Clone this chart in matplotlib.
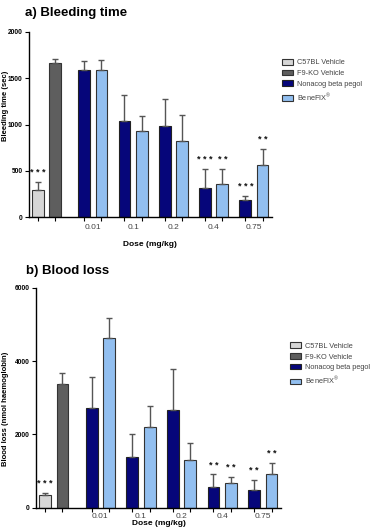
import numpy as np
import matplotlib
matplotlib.use("Agg")
import matplotlib.pyplot as plt

# doses shown on x axis
DOSES = ["0.01", "0.1", "0.2", "0.4", "0.75"]
SERIES = ["C57BL Vehicle", "F9-KO Vehicle", "Nonacog beta pegol", "BeneFIX$^{\\mathregular{®}}$"]

# a) bleeding time (sec): mean and upper error
BT_C57 = [290, 95]
BT_F9 = [1660, 50]
BT_NBP = [1590, 1040, 980, 320, 190]
BT_NBP_ERR = [100, 280, 295, 205, 35]
BT_BFX = [1590, 925, 820, 355, 560]
BT_BFX_ERR = [110, 165, 280, 165, 180]
BT_C57_STARS = "* * *"
BT_NBP_STARS = ["", "", "", "* * *", "* * *"]
BT_BFX_STARS = ["", "", "", "* *", "* *"]

# b) blood loss (nmol haemoglobin)
BL_C57 = [340, 60]
BL_F9 = [3370, 300]
BL_NBP = [2725, 1395, 2670, 550, 480]
BL_NBP_ERR = [835, 625, 1125, 355, 270]
BL_BFX = [4620, 2190, 1310, 680, 915]
BL_BFX_ERR = [550, 580, 450, 160, 315]
BL_C57_STARS = "* * *"
BL_NBP_STARS = ["", "", "", "* *", "* *"]
BL_BFX_STARS = ["", "", "", "* *", "* *"]

COLORS = ["#d6d6d6", "#5e5e5e", "#06067a", "#92bff0"]
W = 0.29
OFF = 0.43


def draw_panel(ax, c57, f9, nbp, nbp_err, bfx, bfx_err, c57_st, nbp_st, bfx_st, ymax, yticks,
               xlabelpad=7, xtickpad=5):
    x = np.arange(len(DOSES))
    ekw = dict(ecolor="#555555", elinewidth=1.0, capsize=2.5, capthick=1.0)
    bars = []
    bars.append(ax.bar([-1.15], [c57[0]], W, color=COLORS[0], edgecolor="#333333", lw=0.8,
                       yerr=[[0], [c57[1]]], error_kw=ekw))
    bars.append(ax.bar([-0.72], [f9[0]], W, color=COLORS[1], edgecolor="#333333", lw=0.8,
                       yerr=[[0], [f9[1]]], error_kw=ekw))
    bars.append(ax.bar(x, nbp, W, color=COLORS[2], edgecolor="#222222", lw=0.8,
                       yerr=[np.zeros(len(x)), nbp_err], error_kw=ekw))
    bars.append(ax.bar(x + OFF, bfx, W, color=COLORS[3], edgecolor="#333333", lw=0.8,
                       yerr=[np.zeros(len(x)), bfx_err], error_kw=ekw))

    st_kw = dict(textcoords="offset points", xytext=(0, 3.5), ha="center", va="bottom",
                 fontsize=6.5, fontweight="bold", color="#111111")
    ax.annotate(c57_st, (-1.15, c57[0] + c57[1]), **st_kw)
    for i in range(len(x)):
        if nbp_st[i]:
            ax.annotate(nbp_st[i], (x[i], nbp[i] + nbp_err[i]), **st_kw)
        if bfx_st[i]:
            ax.annotate(bfx_st[i], (x[i] + OFF, bfx[i] + bfx_err[i]), **st_kw)

    ax.set_xlim(-1.37, 4.66)
    ax.set_ylim(0, ymax)
    ax.set_yticks(yticks)
    ax.set_yticklabels([str(t) for t in yticks], fontsize=4.8, fontweight="bold")
    ax.set_xticks(x + OFF / 2)
    ax.set_xticklabels(DOSES, fontsize=6, color="#444444")
    ax.tick_params(axis="x", length=0, pad=xtickpad)
    ax.set_xticks(np.concatenate([[-1.15, -0.72], x, x + OFF]), minor=True)
    ax.tick_params(axis="x", which="minor", length=3, width=0.8)
    ax.tick_params(axis="y", length=3, width=0.8, pad=1.5)
    for s in ["top", "right"]:
        ax.spines[s].set_visible(False)
    for s in ["left", "bottom"]:
        ax.spines[s].set_linewidth(1.0)
    ax.set_xlabel("Dose (mg/kg)", fontsize=6, fontweight="bold", labelpad=xlabelpad)
    return bars


fig = plt.figure(figsize=(3.76, 5.31), dpi=100)
plt.rcParams["font.family"] = ["Liberation Sans", "DejaVu Sans"]

leg_kw = dict(loc="upper left", frameon=False, fontsize=5.3, handlelength=1.5,
              handleheight=0.8, labelspacing=0.45, handletextpad=0.5,
              labelcolor="#444444", borderaxespad=0, borderpad=0)

ax1 = fig.add_axes([0.077, 0.591, 0.646, 0.349])
bars = draw_panel(ax1, BT_C57, BT_F9, BT_NBP, BT_NBP_ERR, BT_BFX, BT_BFX_ERR,
                  BT_C57_STARS, BT_NBP_STARS, BT_BFX_STARS, 2000, [0, 500, 1000, 1500, 2000])
ax1.set_ylabel("Bleeding time (sec)", fontsize=5.5, fontweight="bold")
ax1.yaxis.set_label_coords(-0.082, 0.6)
fig.legend(bars, SERIES, bbox_to_anchor=(0.75, 0.889), **leg_kw)
fig.text(0.066, 0.975, "a) Bleeding time", fontsize=9.5, fontweight="bold", va="center")

ax2 = fig.add_axes([0.096, 0.044, 0.651, 0.414])
bars = draw_panel(ax2, BL_C57, BL_F9, BL_NBP, BL_NBP_ERR, BL_BFX, BL_BFX_ERR,
                  BL_C57_STARS, BL_NBP_STARS, BL_BFX_STARS, 6000, [0, 2000, 4000, 6000],
                  xlabelpad=0, xtickpad=4)
ax2.set_ylabel("Blood loss (nmol haemoglobin)", fontsize=5.5, fontweight="bold")
ax2.yaxis.set_label_coords(-0.11, 0.45)
fig.legend(bars, SERIES, bbox_to_anchor=(0.771, 0.355), **leg_kw)
fig.text(0.068, 0.49, "b) Blood loss", fontsize=9.5, fontweight="bold", va="center")

fig.savefig("out.png", dpi=100)
